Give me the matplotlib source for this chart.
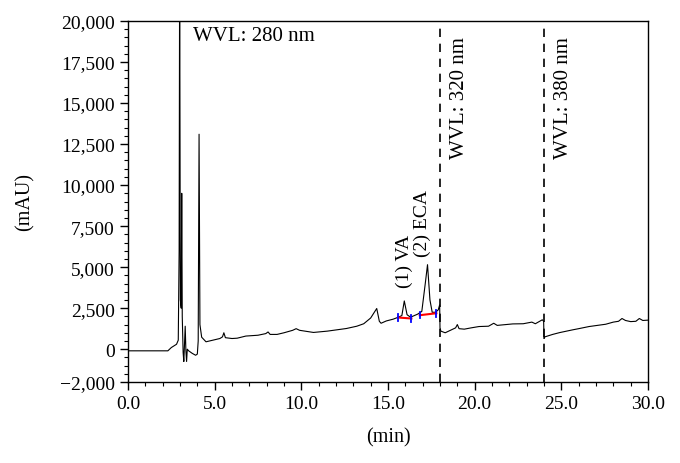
import numpy as np
import matplotlib
matplotlib.use("Agg")
import matplotlib.pyplot as plt
from matplotlib.ticker import MultipleLocator, FuncFormatter

##### Data #####
time_min = [0.0, 2.3, 2.5, 2.8, 2.9, 2.95, 2.98, 3.02, 3.07, 3.10, 3.13, 3.18, 3.22,
            3.26, 3.30, 3.34, 3.38, 3.42, 3.5, 3.7, 3.9, 4.0, 4.05, 4.10, 4.15, 4.25,
            4.5, 4.9, 5.3, 5.45, 5.53, 5.62, 6.0, 6.3, 6.8, 7.5, 7.95, 8.08, 8.2, 8.6,
            9.0, 9.5, 9.7, 9.9, 10.7, 11.5, 12.6, 13.2, 13.6, 14.0, 14.35, 14.5, 14.6,
            14.9, 15.3, 15.6, 15.8, 15.94, 16.1, 16.3, 16.7, 16.95, 17.15, 17.28, 17.42,
            17.55, 17.75, 17.9, 17.98, 18.0, 18.05, 18.3, 18.6, 18.9, 19.0, 19.1, 19.4,
            19.8, 20.25, 20.8, 21.1, 21.3, 21.8, 22.2, 22.8, 23.3, 23.5, 23.9, 23.98,
            24.0, 24.05, 24.5, 24.9, 25.66, 26.0, 26.6, 27.56, 28.0, 28.3, 28.5, 28.7,
            29.0, 29.3, 29.5, 29.7, 30.0]
signal_mau = [-100, -100, 100, 300, 550, 6000, 24000, 3000, 2500, 9500, 2000, -200, -750,
              300, 1400, -100, -750, 0, -100, -250, -370, -300, 500, 13100, 1500, 730,
              450, 550, 650, 750, 1000, 700, 650, 670, 800, 850, 950, 1050, 900, 900,
              1000, 1150, 1250, 1150, 1020, 1100, 1260, 1400, 1550, 1900, 2480, 1700, 1580,
              1720, 1830, 1950, 2050, 2940, 2100, 1950, 2130, 2300, 4000, 5150, 3000,
              2250, 2250, 2400, 2700, 1300, 1100, 1000, 1150, 1300, 1500, 1250, 1220,
              1300, 1380, 1400, 1580, 1450, 1500, 1540, 1550, 1650, 1550, 1790, 1700,
              650, 750, 900, 1010, 1180, 1250, 1380, 1520, 1650, 1700, 1870, 1750,
              1680, 1700, 1870, 1750, 1770]

# integration baselines (start/end time, start/end level)
base_t = [(15.58, 16.35), (16.83, 17.79)]
base_v = [(1930, 1870), (2070, 2190)]

switch_times = [18.0, 24.0]
wvl_labels = ["WVL: 280 nm", "WVL: 320 nm", "WVL: 380 nm"]
peak_labels = ["(1) VA", "(2) ECA"]
peak_label_t = [15.95, 17.0]
peak_label_v = [3800, 5650]

##### Plot #####
plt.rcParams['font.family'] = ['Liberation Serif', 'DejaVu Serif']

fig = plt.figure(figsize=(6.8, 4.64), dpi=100)
ax = fig.add_axes([128/680, 1-383/464, (648-128)/680, (383-22)/464])

ax.plot(time_min, signal_mau, color='black', lw=0.8)

for (t0, t1), (v0, v1) in zip(base_t, base_v):
    ax.plot([t0, t1], [v0, v1], color='red', lw=1.5)
    ax.plot([t0, t0], [v0-200, v0+200], color='blue', lw=1.3)
    ax.plot([t1, t1], [v1-200, v1+200], color='blue', lw=1.3)

for st in switch_times:
    ax.axvline(st, color='black', lw=1.2, ls=(0, (5, 4)))

ax.set_xlim(0, 30)
ax.set_ylim(-2000, 20000)

ax.xaxis.set_major_locator(MultipleLocator(5))
ax.xaxis.set_minor_locator(MultipleLocator(1))
ax.yaxis.set_minor_locator(MultipleLocator(500))
ax.set_yticks([-2000, 0, 2500, 5000, 7500, 10000, 12500, 15000, 17500, 20000])
ax.xaxis.set_major_formatter(FuncFormatter(lambda v, p: f"{v:.1f}"))
ax.yaxis.set_major_formatter(FuncFormatter(lambda v, p: f"{int(round(v)):,}".replace('-', '\u2212')))
ax.tick_params(axis='both', which='major', direction='out', length=6, width=1, labelsize=14)
ax.tick_params(axis='both', which='minor', direction='out', length=3, width=0.8)

for sp in ax.spines.values():
    sp.set_linewidth(1.0)

ax.set_xlabel("(min)", fontsize=14.5, va='center')
ax.set_ylabel("(mAU)", fontsize=14.5, va='center')
ax.xaxis.set_label_coords(0.5, (383-438)/361)
ax.yaxis.set_label_coords((25-128)/520, 0.5)

ax.text(3.75, 19700, wvl_labels[0], fontsize=15, ha='left', va='top')
ax.text(19.1, 19100, wvl_labels[1], fontsize=15, ha='center', va='top', rotation=90)
ax.text(25.15, 19100, wvl_labels[2], fontsize=15, ha='center', va='top', rotation=90)
for lab, t, v in zip(peak_labels, peak_label_t, peak_label_v):
    ax.text(t, v, lab, fontsize=14, ha='center', va='bottom', rotation=90)

fig.savefig("out.png", dpi=100)
